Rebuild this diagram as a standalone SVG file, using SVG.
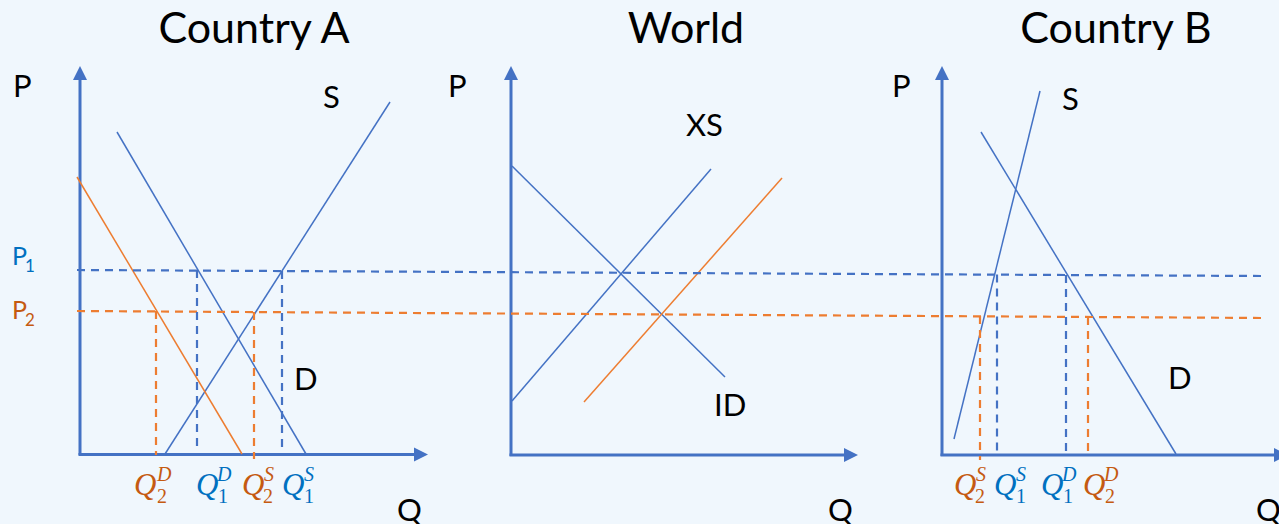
<svg xmlns="http://www.w3.org/2000/svg" width="1279" height="524" viewBox="0 0 1279 524">
<defs>
<style>
.bg{fill:#F0F7FD}
.axis{stroke:#4472C4;stroke-width:3;fill:none}
.head{fill:#4472C4}
.cb{stroke:#4472C4;stroke-width:1.5;fill:none}
.co{stroke:#ED7D31;stroke-width:1.5;fill:none}
.db{stroke:#4472C4;stroke-width:2.2;stroke-dasharray:8 6;fill:none}
.do{stroke:#ED7D31;stroke-width:2.2;stroke-dasharray:8 6;fill:none}
.title{font-family:Lato,"Liberation Sans",sans-serif;font-size:43px;fill:#000}
.lab{font-family:Lato,"Liberation Sans",sans-serif;font-size:31px;fill:#000}
.pl{font-family:Lato,"Liberation Sans",sans-serif;font-size:25px}
.ps{font-family:Lato,"Liberation Sans",sans-serif;font-size:17px}
.q{font-family:"Liberation Serif",serif;font-style:italic;font-size:31px}
.qs{font-family:"Liberation Serif",serif;font-style:italic;font-size:20px}
.qn{font-family:"Liberation Serif",serif;font-size:20px}
.blue{fill:#0070C0}
.orange{fill:#C55A11}
</style>
</defs>
<rect class="bg" x="0" y="0" width="1279" height="524"/>

<g id="titles">
<text class="title" x="254" y="43" text-anchor="middle">Country A</text>
<text class="title" x="686" y="43" text-anchor="middle">World</text>
<text class="title" x="1116" y="43" text-anchor="middle">Country B</text>
</g>

<g id="countryA">
<line class="axis" x1="80" y1="455" x2="80" y2="79"/>
<polygon class="head" points="80,66 73,80 87,80"/>
<line class="axis" x1="78.5" y1="454.5" x2="415" y2="454.5"/>
<polygon class="head" points="428,454.5 414,447.5 414,461.5"/>
<line class="cb" x1="165" y1="454" x2="390" y2="102"/>
<line class="cb" x1="117" y1="132" x2="306" y2="454"/>
<line class="co" x1="77" y1="177" x2="242" y2="454"/>
<text class="lab" x="13" y="97">P</text>
<text class="lab" x="323" y="108">S</text>
<text class="lab" x="294" y="390">D</text>
<text class="lab" x="397" y="521">Q</text>
<text class="pl blue" x="12" y="265">P</text><text class="ps blue" x="25" y="272">1</text>
<text class="pl orange" x="12" y="319">P</text><text class="ps orange" x="25" y="326">2</text>
</g>

<g id="world">
<line class="axis" x1="511" y1="456" x2="511" y2="79"/>
<polygon class="head" points="511,66 504,80 518,80"/>
<line class="axis" x1="509.5" y1="455" x2="845" y2="455"/>
<polygon class="head" points="858,455 844,448 844,462"/>
<line class="cb" x1="512" y1="166" x2="725" y2="377"/>
<line class="cb" x1="512" y1="401" x2="711" y2="169"/>
<line class="co" x1="584" y1="402" x2="782" y2="178"/>
<text class="lab" x="448" y="97">P</text>
<text class="lab" x="686" y="136">XS</text>
<text class="lab" x="714" y="416">ID</text>
<text class="lab" x="828" y="521">Q</text>
</g>

<g id="countryB">
<line class="axis" x1="942" y1="456" x2="942" y2="79"/>
<polygon class="head" points="942,66 935,80 949,80"/>
<line class="axis" x1="940.5" y1="455" x2="1275" y2="455"/>
<polygon class="head" points="1288,455 1274,448 1274,462"/>
<line class="cb" x1="954" y1="439" x2="1040" y2="91"/>
<line class="cb" x1="981" y1="132" x2="1176" y2="454"/>
<text class="lab" x="892" y="97">P</text>
<text class="lab" x="1062" y="110">S</text>
<text class="lab" x="1168" y="389">D</text>
<text class="lab" x="1256" y="521">Q</text>
</g>

<g id="connectors">
<line class="db" x1="77" y1="270" x2="1262" y2="276"/>
<line class="do" x1="77" y1="311" x2="1264" y2="318"/>
<line class="db" x1="197" y1="270" x2="197" y2="452"/>
<line class="db" x1="282" y1="271" x2="282" y2="452"/>
<line class="do" x1="156" y1="311" x2="156" y2="455"/>
<line class="do" x1="254" y1="312" x2="254" y2="459"/>
<line class="db" x1="997" y1="274.5" x2="997" y2="451"/>
<line class="db" x1="1066" y1="275" x2="1066" y2="455"/>
<line class="do" x1="980" y1="316" x2="980" y2="460"/>
<line class="do" x1="1088" y1="317" x2="1088" y2="455"/>
</g>

<g id="quantityLabels">
<text class="q orange" x="134" y="495">Q</text><text class="qs orange" x="157" y="481">D</text><text class="qn orange" x="157" y="503">2</text>
<text class="q blue" x="196" y="495">Q</text><text class="qs blue" x="217" y="481">D</text><text class="qn blue" x="218" y="503">1</text>
<text class="q orange" x="242" y="495">Q</text><text class="qs orange" x="264" y="481">S</text><text class="qn orange" x="263" y="503">2</text>
<text class="q blue" x="282" y="495">Q</text><text class="qs blue" x="304" y="481">S</text><text class="qn blue" x="304" y="503">1</text>
<text class="q orange" x="954" y="495">Q</text><text class="qs orange" x="976" y="481">S</text><text class="qn orange" x="975" y="503">2</text>
<text class="q blue" x="994" y="495">Q</text><text class="qs blue" x="1016" y="481">S</text><text class="qn blue" x="1016" y="503">1</text>
<text class="q blue" x="1041" y="495">Q</text><text class="qs blue" x="1062" y="481">D</text><text class="qn blue" x="1063" y="503">1</text>
<text class="q orange" x="1083" y="495">Q</text><text class="qs orange" x="1104" y="481">D</text><text class="qn orange" x="1105" y="503">2</text>
</g>
</svg>
